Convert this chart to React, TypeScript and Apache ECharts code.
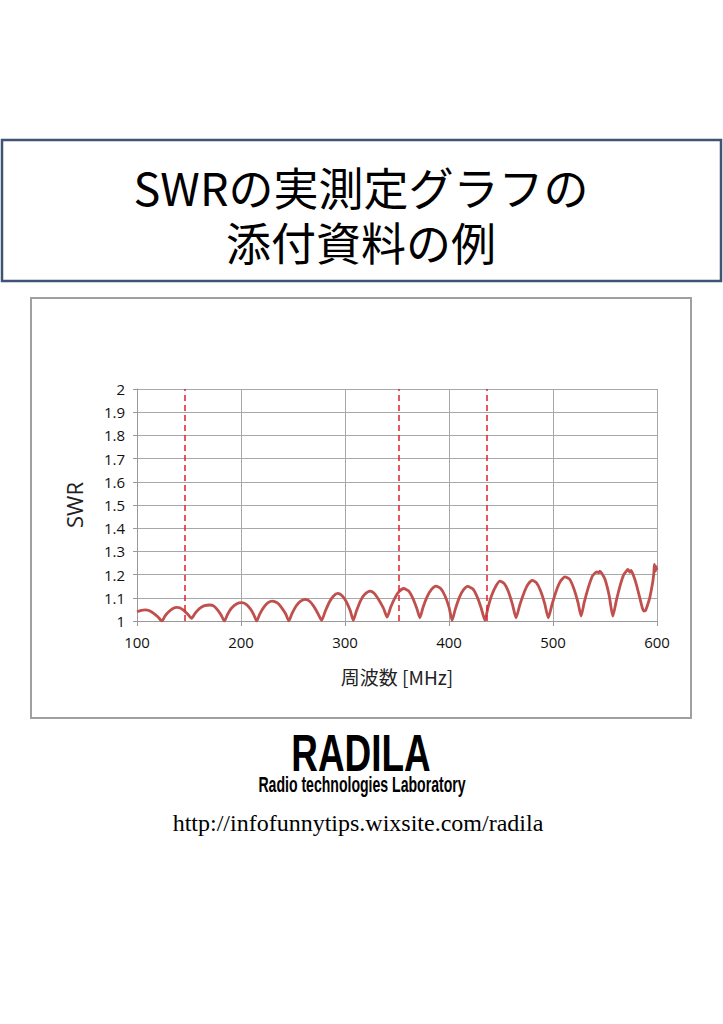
import React, { useEffect, useRef } from "react";
import * as echarts from "echarts";

// Frequency [MHz] and SWR readings
const freqMHz = [
  100, 104, 108, 112, 116, 120, 124,
  127, 131, 135, 138, 141, 145, 149, 152.5,
  156, 160, 165, 170, 174, 178, 181, 184,
  187, 191, 196, 200.5, 205, 209, 212, 215,
  218, 222, 226, 230, 235, 239, 243, 246,
  249, 253, 257, 262, 266, 270, 274, 277.5,
  281, 285, 289, 293, 297, 301, 305, 308,
  311, 315, 319, 324, 328, 332, 337, 340.5,
  344, 348, 352, 356.5, 361, 365, 369, 372,
  375, 379, 383, 387.5, 392, 396, 400, 403,
  406, 410, 414, 418, 423, 427, 431, 434.5,
  437.5, 441, 445, 449, 453, 457, 461, 464.5,
  468, 472, 476, 480, 484, 488, 492, 495.5,
  499, 503, 507, 511.5, 516, 520, 524, 527,
  530, 534, 538, 540, 542, 544, 545, 547, 550, 554, 557.5,
  561, 565, 568, 570, 572, 574, 575, 577, 580, 584, 586, 587.5,
  589, 591, 593, 595, 596, 597, 597.5, 598.5, 599, 600,
];
const swr = [
  1.04, 1.046, 1.048, 1.044, 1.033, 1.018, 1.0,
  1.022, 1.042, 1.055, 1.059, 1.057, 1.046, 1.028, 1.011,
  1.034, 1.053, 1.066, 1.069, 1.064, 1.045, 1.025, 1.0,
  1.028, 1.056, 1.074, 1.079, 1.072, 1.052, 1.03, 1.0,
  1.03, 1.06, 1.079, 1.086, 1.078, 1.058, 1.03, 1.0,
  1.032, 1.065, 1.085, 1.093, 1.085, 1.063, 1.032, 1.003,
  1.042, 1.082, 1.108, 1.119, 1.11, 1.085, 1.045, 1.003,
  1.043, 1.088, 1.115, 1.129, 1.12, 1.095, 1.055, 1.017,
  1.06, 1.1, 1.127, 1.14, 1.13, 1.1, 1.055, 1.014,
  1.058, 1.105, 1.135, 1.15, 1.14, 1.11, 1.06, 1.003,
  1.05, 1.102, 1.135, 1.149, 1.138, 1.105, 1.055, 1.003,
  1.058, 1.11, 1.15, 1.172, 1.162, 1.128, 1.072, 1.014,
  1.068, 1.12, 1.158, 1.175, 1.165, 1.13, 1.075, 1.014,
  1.07, 1.128, 1.17, 1.19, 1.18, 1.14, 1.08, 1.021,
  1.08, 1.145, 1.195, 1.205, 1.212, 1.208, 1.215, 1.205, 1.18, 1.11, 1.021,
  1.09, 1.16, 1.2, 1.212, 1.222, 1.21, 1.218, 1.2, 1.16, 1.09, 1.055, 1.043,
  1.045, 1.07, 1.1, 1.145, 1.17, 1.21, 1.244, 1.215, 1.235, 1.22,
];
// Dashed marker frequencies [MHz]
const markerMHz = [146, 352, 436];
const xTicks = [100, 600, 100]; // min, max, interval
const yTicks = [1, 2, 0.1];

const titleLines = ["SWRの実測定グラフの", "添付資料の例"];
const xName = "周波数 [MHz]";
const yName = "SWR";
const logoText = "RADILA";
const logoSub = "Radio technologies Laboratory";
const url = "http://infofunnytips.wixsite.com/radila";

export default function App() {
  const ref = useRef<HTMLDivElement>(null);
  useEffect(() => {
    if (!ref.current) return;
    const chart = echarts.init(ref.current, null, { renderer: "svg" });
    const cjk = '"Noto Sans CJK JP", "Noto Sans", sans-serif';
    const sans = '"Open Sans", "Noto Sans", sans-serif';
    chart.setOption({
      animation: false,
      backgroundColor: "#ffffff",
      grid: { left: 137, right: 66, top: 389, bottom: 403 },
      xAxis: {
        type: "value",
        min: xTicks[0],
        max: xTicks[1],
        interval: xTicks[2],
        name: xName,
        nameLocation: "middle",
        nameGap: 46,
        nameTextStyle: { fontFamily: cjk, fontSize: 19, color: "#222" },
        axisLine: { lineStyle: { color: "#9a9a9a", width: 1 } },
        axisTick: { show: true, length: 5, lineStyle: { color: "#9a9a9a" } },
        axisLabel: { margin: 13, fontFamily: sans, fontSize: 15, color: "#111" },
        splitLine: { show: true, lineStyle: { color: "#a8a8a8", width: 1 } },
      },
      yAxis: {
        type: "value",
        min: yTicks[0],
        max: yTicks[1],
        interval: yTicks[2],
        name: yName,
        nameLocation: "middle",
        nameRotate: 90,
        nameGap: 52,
        nameTextStyle: { fontFamily: sans, fontSize: 22, color: "#222" },
        axisLine: { show: true, lineStyle: { color: "#9a9a9a", width: 1 } },
        axisTick: { show: true, length: 4, lineStyle: { color: "#9a9a9a" } },
        axisLabel: {
          margin: 12,
          fontFamily: sans,
          fontSize: 15,
          color: "#111",
          formatter: (v: number) => String(Math.round(v * 10) / 10),
        },
        splitLine: { show: true, lineStyle: { color: "#a8a8a8", width: 1 } },
      },
      series: [
        {
          type: "line",
          data: freqMHz.map((f, i) => [f, swr[i]]),
          showSymbol: false,
          symbol: "none",
          smooth: 0.2,
          lineStyle: { color: "#C0504D", width: 2.8 },
          markLine: {
            silent: true,
            symbol: "none",
            label: { show: false },
            lineStyle: { color: "#E0202C", type: [6, 4], width: 1.5 },
            data: markerMHz.map((m) => ({ xAxis: m })),
          },
          z: 3,
        },
      ],
      graphic: [
        {
          type: "rect",
          shape: { x: 2, y: 140, width: 719, height: 141 },
          style: { fill: "none", stroke: "#3F5474", lineWidth: 2.5 },
        },
        {
          type: "text",
          x: 361,
          y: 213.5,
          style: {
            text: titleLines.join("\n"),
            fontFamily: cjk,
            fontSize: 45,
            lineHeight: 55,
            fill: "#000",
            align: "center",
            verticalAlign: "middle",
          },
        },
        {
          type: "rect",
          shape: { x: 31, y: 298, width: 660, height: 420 },
          style: { fill: "none", stroke: "#a0a0a0", lineWidth: 2 },
        },
        {
          type: "text",
          x: 361,
          y: 753,
          scaleX: 0.71,
          style: {
            text: logoText,
            fontFamily: '"Liberation Sans", "DejaVu Sans", sans-serif',
            fontWeight: "bold",
            fontSize: 52,
            fill: "#000",
            align: "center",
            verticalAlign: "middle",
          },
        },
        {
          type: "text",
          x: 362,
          y: 784,
          scaleX: 0.64,
          style: {
            text: logoSub,
            fontFamily: '"Liberation Sans", "DejaVu Sans", sans-serif',
            fontWeight: "bold",
            fontSize: 22,
            fill: "#000",
            align: "center",
            verticalAlign: "middle",
          },
        },
        {
          type: "text",
          x: 358,
          y: 823,
          style: {
            text: url,
            fontFamily: '"Liberation Serif", "DejaVu Serif", serif',
            fontSize: 24,
            fill: "#000",
            align: "center",
            verticalAlign: "middle",
          },
        },
      ],
    });
    return () => chart.dispose();
  }, []);
  return (
    <div
      ref={ref}
      style={{
        position: "absolute",
        left: 0,
        top: 0,
        width: 723,
        height: 1024,
        background: "#fff",
      }}
    />
  );
}
